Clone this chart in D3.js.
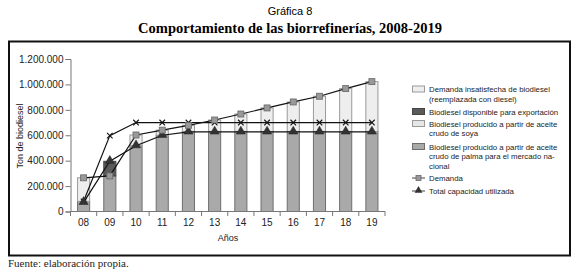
<!DOCTYPE html>
<html>
<head>
<meta charset="utf-8">
<script src="https://cdn.jsdelivr.net/npm/d3@7"></script>
<style>
  body { margin: 0; background: #fff; }
  svg { display: block; }
</style>
</head>
<body>
<svg id="chart" width="580" height="271"></svg>
<script>
// data (tons of biodiesel)
const years = ['08', '09', '10', '11', '12', '13', '14', '15', '16', '17', '18', '19'];
const palm = [80000, 280000, 520000, 600000, 630000, 630000, 630000, 630000, 630000, 630000, 630000, 630000];
const exportAvail = [0, 115000, 0, 0, 0, 0, 0, 0, 0, 0, 0, 0];
const soya = [0, 0, 0, 0, 0, 0, 0, 0, 0, 0, 0, 0];
const unmet = [185000, 0, 82000, 40000, 48000, 90000, 137000, 185000, 232000, 277000, 337000, 392000];
const demand = [265000, 280000, 602000, 640000, 678000, 720000, 767000, 815000, 862000, 907000, 967000, 1022000];
const capacity = [80000, 597000, 700000, 700000, 700000, 700000, 700000, 700000, 700000, 700000, 700000, 700000];
const usedCapacity = [72000, 395000, 518000, 600000, 626000, 626000, 626000, 626000, 626000, 626000, 626000, 626000];
const yTicks = [0, 200000, 400000, 600000, 800000, 1000000, 1200000];

const svg = d3.select('#chart');
const serif = '"Liberation Serif", "DejaVu Serif", serif';
const sans = '"Liberation Sans", Arial, sans-serif';

const fmt = d3.formatLocale({ decimal: ',', thousands: '.', grouping: [3], currency: ['', ''] }).format(',d');

// titles
svg.append('text').attr('x', 290).attr('y', 15).attr('text-anchor', 'middle')
    .attr('font-family', sans).attr('font-size', '11px').text('Gráfica 8');
svg.append('text').attr('x', 290).attr('y', 33).attr('text-anchor', 'middle')
    .attr('font-family', serif).attr('font-size', '14.5px').attr('font-weight', 'bold')
    .text('Comportamiento de las biorrefinerías, 2008-2019');

// frame
svg.append('rect').attr('x', 9).attr('y', 41.5).attr('width', 561).attr('height', 214)
    .attr('fill', 'none').attr('stroke', '#111').attr('stroke-width', 2);

svg.append('text').attr('x', 8).attr('y', 267)
    .attr('font-family', serif).attr('font-size', '11px').attr('fill', '#222').text('Fuente: elaboración propia.');

const x = d3.scaleBand().domain(years).range([70.5, 385]).paddingInner(0.5).paddingOuter(0.25);
const y = d3.scaleLinear().domain([0, 1200000]).range([211.5, 59]);

const series = [
    { key: 'palm', values: palm, fill: '#a9a9a9', stroke: '#6e6e6e' },
    { key: 'export', values: exportAvail, fill: '#5a5a5a', stroke: '#444' },
    { key: 'soya', values: soya, fill: '#e6e6e6', stroke: '#9a9a9a' },
    { key: 'unmet', values: unmet, fill: '#eeeeee', stroke: '#9a9a9a' }
];

const stacked = d3.stack().keys(series.map(s => s.key))(
    years.map((yr, i) => {
        const row = { year: yr };
        series.forEach(s => { row[s.key] = s.values[i]; });
        return row;
    })
);

stacked.forEach((layer, li) => {
    svg.append('g').selectAll('rect')
        .data(layer.filter(d => d[1] > d[0]))
        .enter().append('rect')
        .attr('x', d => x(d.data.year) + 0.5)
        .attr('y', d => y(d[1]))
        .attr('width', x.bandwidth() - 1)
        .attr('height', d => y(d[0]) - y(d[1]))
        .attr('fill', series[li].fill)
        .attr('stroke', series[li].stroke)
        .attr('stroke-width', 1);
});

// axes
const yAxis = svg.append('g').attr('transform', 'translate(70.5,0)')
    .call(d3.axisLeft(y).tickValues(yTicks).tickFormat(fmt).tickSize(5).tickPadding(2));
yAxis.select('.domain').attr('stroke', '#777');
yAxis.selectAll('line').attr('stroke', '#777');
yAxis.selectAll('text').attr('font-family', sans).attr('font-size', '10px').attr('fill', '#222');

svg.append('line').attr('x1', 70.5).attr('x2', 385).attr('y1', 211.5).attr('y2', 211.5).attr('stroke', '#777');
const step = x.step();
svg.append('g').selectAll('line')
    .data(d3.range(years.length + 1))
    .enter().append('line')
    .attr('x1', i => 70.5 + i * step).attr('x2', i => 70.5 + i * step)
    .attr('y1', 211.5).attr('y2', 216)
    .attr('stroke', '#777');
svg.append('g').selectAll('text')
    .data(years)
    .enter().append('text')
    .attr('x', d => x(d) + x.bandwidth() / 2)
    .attr('y', 226)
    .attr('text-anchor', 'middle')
    .attr('font-family', sans).attr('font-size', '10px').attr('fill', '#222')
    .text(d => d);

svg.append('text').attr('x', 228).attr('y', 241).attr('text-anchor', 'middle')
    .attr('font-family', sans).attr('font-size', '9px').attr('fill', '#222').text('Años');
svg.append('text').attr('transform', 'translate(23,136) rotate(-90)').attr('text-anchor', 'middle')
    .attr('font-family', sans).attr('font-size', '9px').attr('fill', '#222').text('Ton de biodiesel');

// lines
const cx = (d, i) => x(years[i]) + x.bandwidth() / 2;
const line = d3.line().x(cx).y(d => y(d));

[capacity, usedCapacity, demand].forEach(vals => {
    svg.append('path').datum(vals)
        .attr('fill', 'none').attr('stroke', '#111').attr('stroke-width', 1.2)
        .attr('d', line);
});

const cross = d3.symbol().type(d3.symbolX).size(22);
svg.append('g').selectAll('path').data(capacity).enter().append('path')
    .attr('transform', (d, i) => `translate(${cx(d, i)},${y(d)})`)
    .attr('d', cross).attr('fill', 'none').attr('stroke', '#111').attr('stroke-width', 1.1);

const tri = d3.symbol().type(d3.symbolTriangle).size(36);
svg.append('g').selectAll('path').data(usedCapacity).enter().append('path')
    .attr('transform', (d, i) => `translate(${cx(d, i)},${y(d) - 0.5})`)
    .attr('d', tri).attr('fill', '#333').attr('stroke', '#222').attr('stroke-width', 0.5);

svg.append('g').selectAll('rect').data(demand).enter().append('rect')
    .attr('x', (d, i) => cx(d, i) - 3).attr('y', d => y(d) - 3)
    .attr('width', 6).attr('height', 6)
    .attr('fill', '#999').attr('stroke', '#666').attr('stroke-width', 0.8);

// legend
const legendItems = [
    { lines: ['Demanda insatisfecha de biodiesel', '(reemplazada con diesel)'], y: 89, fill: '#eeeeee', stroke: '#9a9a9a' },
    { lines: ['Biodiesel disponible para exportación'], y: 111.5, fill: '#5a5a5a', stroke: '#444' },
    { lines: ['Biodiesel producido a partir de aceite', 'crudo de soya'], y: 123.5, fill: '#e6e6e6', stroke: '#9a9a9a' },
    { lines: ['Biodiesel producido a partir de aceite', 'crudo de palma para el mercado na-', 'cional'], y: 146.5, fill: '#a9a9a9', stroke: '#6e6e6e' },
    { lines: ['Demanda'], y: 178, marker: 'square' },
    { lines: ['Total capacidad utilizada'], y: 191, marker: 'triangle' }
];

const legend = svg.append('g');
legendItems.forEach(item => {
    if (item.marker) {
        legend.append('line').attr('x1', 412).attr('x2', 425).attr('y1', item.y).attr('y2', item.y)
            .attr('stroke', '#444').attr('stroke-width', 1);
        if (item.marker === 'square') {
            legend.append('rect').attr('x', 416).attr('y', item.y - 2.5).attr('width', 5).attr('height', 5)
                .attr('fill', '#999').attr('stroke', '#666').attr('stroke-width', 0.8);
        } else {
            legend.append('path').attr('transform', `translate(418.5,${item.y - 0.5})`)
                .attr('d', d3.symbol().type(d3.symbolTriangle).size(26)).attr('fill', '#333');
        }
    } else {
        legend.append('rect').attr('x', 412.5).attr('y', item.y - 3).attr('width', 12).attr('height', 6)
            .attr('fill', item.fill).attr('stroke', item.stroke).attr('stroke-width', 1);
    }
    item.lines.forEach((t, j) => {
        legend.append('text').attr('x', 429).attr('y', item.y + 3 + j * 9.6)
            .attr('font-family', sans).attr('font-size', '7.8px').attr('fill', '#222').text(t);
    });
});
</script>
</body>
</html>
